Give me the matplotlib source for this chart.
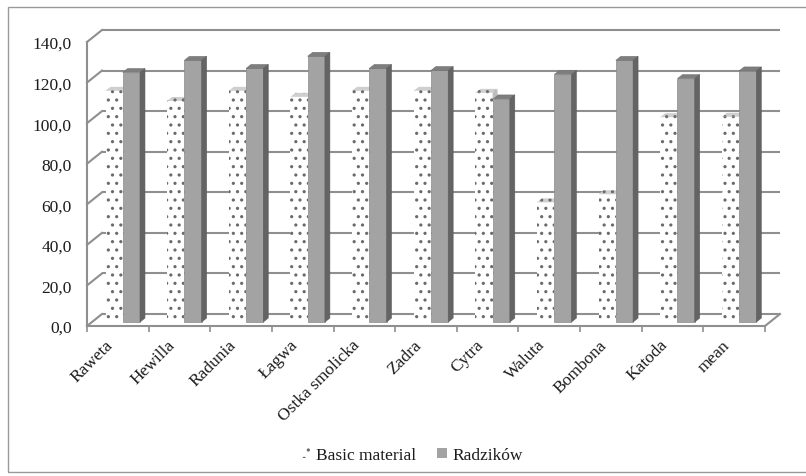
import numpy as np
import matplotlib
matplotlib.use("Agg")
import matplotlib.pyplot as plt
from matplotlib.patches import Polygon, Patch, Rectangle
from matplotlib.transforms import ScaledTranslation

# ---- data -------------------------------------------------------------
categories = ["Raweta", "Hewilla", "Radunia", "Łagwa", "Ostka smolicka", "Zadra",
              "Cytra", "Waluta", "Bombona", "Katoda", "mean"]
basic_material = [114.0, 109.0, 114.0, 111.0, 114.0, 114.0, 113.0, 59.0, 63.0, 101.0, 101.2]
radzikow = [123.0, 129.0, 125.0, 131.0, 125.0, 124.0, 110.0, 122.0, 129.0, 120.0, 123.8]
series_names = ["Basic material", "Radzików"]
y_ticks = [0, 20, 40, 60, 80, 100, 120, 140]
y_tick_labels = ["0,0", "20,0", "40,0", "60,0", "80,0", "100,0", "120,0", "140,0"]

# ---- style ------------------------------------------------------------
plt.rcParams["font.family"] = ["Liberation Serif", "DejaVu Serif"]
plt.rcParams["hatch.linewidth"] = 1.1
TEXT = "#1c1c1c"
GRID = "#8f8f8f"
RAD_FRONT, RAD_TOP, RAD_SIDE = "#a3a3a3", "#7e7e7e", "#646464"
BAS_FRONT, BAS_TOP, DOTS = "#ffffff", "#cfcfcf", "#6a6a6a"

W, H, DPI = 806, 477, 100
fig = plt.figure(figsize=(W / DPI, H / DPI), dpi=DPI)
fig.patch.set_facecolor("white")

# outer chart frame
fig.add_artist(Rectangle((8 / W, 4 / H), 1.2, 465 / H, transform=fig.transFigure,
                         fill=False, edgecolor="#9a9a9a", lw=1.0))

# front plane of the 3-D box
ax_l, ax_b, ax_w, ax_h = 87, 150, 678, 284
ax = fig.add_axes([ax_l / W, ax_b / H, ax_w / W, ax_h / H])
n = len(categories)
ax.set_xlim(0, n)
ax.set_ylim(0, 140)
ax.set_facecolor("none")

px_x = ax_w / n
px_y = ax_h / 140.0

# oblique depth of the box (pixels) and its data-unit equivalent
depth_px = (15.0, 12.0)
DXd, DYd = depth_px[0] / px_x, depth_px[1] / px_y
# bars sit one third of the way into the box, one third deep
bar_front = 0.33
bar_depth = 0.33
bdx, bdy = bar_depth * DXd, bar_depth * DYd

back = ax.transData + ScaledTranslation(depth_px[0] / DPI, depth_px[1] / DPI,
                                        fig.dpi_scale_trans)
bar_tr = ax.transData + ScaledTranslation(bar_front * depth_px[0] / DPI,
                                          bar_front * depth_px[1] / DPI,
                                          fig.dpi_scale_trans)

# back wall gridlines
ax.hlines(y_ticks, 0, n, transform=back, colors=GRID, lw=1.5, zorder=1, clip_on=False)
# side wall diagonals
for yv in y_ticks:
    ax.plot([0, DXd], [yv, yv + DYd], color=GRID, lw=1.5, zorder=1, clip_on=False)
# floor right edge
ax.plot([n, n + DXd], [0, DYd], color=GRID, lw=1.5, zorder=1, clip_on=False)

# ---- bars -------------------------------------------------------------
width = 0.28
x = np.arange(n)
xb = x + 0.5 - width
xr = x + 0.5

ax.bar(xb, basic_material, width=width, align="edge", color=BAS_FRONT,
       edgecolor=DOTS, lw=0, hatch="..", transform=bar_tr, zorder=3, clip_on=False)
for i, v in enumerate(basic_material):
    x0, x1 = xb[i], xb[i] + width
    ax.add_patch(Polygon([(x0, v), (x1, v), (x1 + bdx, v + bdy), (x0 + bdx, v + bdy)],
                         closed=True, facecolor=BAS_TOP, edgecolor=DOTS, lw=0,
                         hatch="..", transform=bar_tr, zorder=3, clip_on=False))

ax.bar(xr, radzikow, width=width, align="edge", color=RAD_FRONT,
       edgecolor="#8a8a8a", lw=0.5, transform=bar_tr, zorder=4, clip_on=False)
for i, v in enumerate(radzikow):
    x0, x1 = xr[i], xr[i] + width
    ax.add_patch(Polygon([(x0, v), (x1, v), (x1 + bdx, v + bdy), (x0 + bdx, v + bdy)],
                         closed=True, facecolor=RAD_TOP, edgecolor="#707070", lw=0.4,
                         transform=bar_tr, zorder=4, clip_on=False))
    ax.add_patch(Polygon([(x1, 0), (x1 + bdx, bdy), (x1 + bdx, v + bdy), (x1, v)],
                         closed=True, facecolor=RAD_SIDE, edgecolor="#5e5e5e", lw=0.4,
                         transform=bar_tr, zorder=4, clip_on=False))
    # part of the basic bar's side face rising above a shorter neighbour
    vb = basic_material[i]
    if vb > v:
        ax.add_patch(Polygon([(x0, v), (x0 + bdx, v + bdy), (x0 + bdx, vb + bdy), (x0, vb)],
                             closed=True, facecolor="#bdbdbd", edgecolor="none",
                             transform=bar_tr, zorder=4.5, clip_on=False))

# ---- axes -------------------------------------------------------------
for side in ("top", "right"):
    ax.spines[side].set_visible(False)
for side in ("left", "bottom"):
    ax.spines[side].set_color(GRID)
    ax.spines[side].set_linewidth(1.5)
    ax.spines[side].set_zorder(2)

ax.set_yticks(y_ticks, y_tick_labels)
ax.tick_params(axis="y", length=0, pad=11, labelsize=12.5, labelcolor=TEXT)

ax.set_xticks(np.arange(n + 1))
ax.set_xticklabels([])
ax.tick_params(axis="x", which="major", length=4.5, width=1.2, color=GRID)

# rotated category names, their ends sitting just under each category
lab_tr = ax.get_xaxis_transform() + ScaledTranslation(-7 / DPI, -16 / DPI,
                                                      fig.dpi_scale_trans)
for i, name in enumerate(categories):
    ax.text(i + 0.5, 0, name, transform=lab_tr, rotation=45, rotation_mode="anchor",
            ha="right", va="center", fontsize=12.5, color=TEXT, clip_on=False)

# ---- legend -----------------------------------------------------------
handles = [Patch(facecolor="white", edgecolor=DOTS, lw=0, hatch=".."),
           Patch(facecolor=RAD_FRONT, edgecolor="none")]
fig.legend(handles, series_names, loc="center", bbox_to_anchor=(412 / W, 1 - 456 / H),
           ncol=2, frameon=False, fontsize=12.5, handlelength=0.55, handleheight=0.55,
           handletextpad=0.3, columnspacing=1.2, labelcolor=TEXT)

fig.savefig("out.png", dpi=DPI)
